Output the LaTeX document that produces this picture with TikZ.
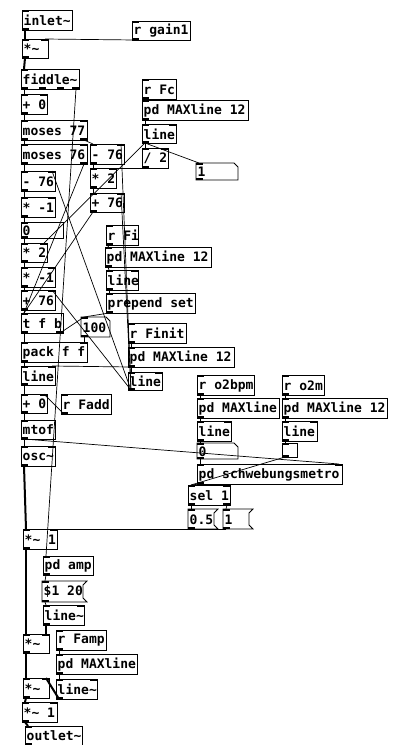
\documentclass[tikz,border=0pt]{standalone}
\usepackage{fontspec}
\newfontfamily\pdmono{DejaVu Sans Mono}
\newcommand\pdfont{\fontsize{13}{13}\selectfont\bfseries\pdmono}
\newcommand\tl{\textasciitilde}
\tikzset{
  bx0/.style={draw=none,rectangle,inner sep=0pt,outer sep=0pt,anchor=north west},
  lab/.style={font=\pdfont,inner sep=0pt,anchor=west,xshift=1.5pt,yshift=-0.5pt},
  bx/.style={line width=0.8pt,black},
  c/.style={line width=0.7pt,black},
  sig/.style={line width=2pt,black}
}
\newcommand\objline[1]{\draw[bx] (#1.north west) rectangle (#1.south east);}
\newcommand\atomline[1]{\draw[bx] (#1.south west) -- (#1.north west) -- ([xshift=-4pt]#1.north east) -- ([yshift=-4pt]#1.north east) -- (#1.south east) -- cycle;}
\newcommand\msgline[1]{\draw[bx] (#1.south west) -- (#1.north west) -- ([xshift=4pt]#1.north east) -- ([yshift=-4pt]#1.north east) -- ([yshift=4pt]#1.south east) -- ([xshift=4pt]#1.south east) -- cycle;}
% #1 kind, #2 name, #3 x, #4 y, #5 w, #6 h, #7 text, #8 flags (1=right inlet, 2=right outlet, 3=both)
\newcommand\pdbox[8]{%
  \node[bx0,minimum width=#5,minimum height=#6] (#2) at (#3,#4) {};
  \node[lab] (#2t) at (#2.west) {#7};
  \csname #1line\endcsname{#2}%
  \fill (#2.north west) rectangle ([shift={(7pt,-2pt)}]#2.north west);
  \fill (#2.south west) rectangle ([shift={(7pt,2pt)}]#2.south west);
  \ifodd#8 \fill (#2.north east) rectangle ([shift={(-7pt,-2pt)}]#2.north east);\fi
  \ifnum#8>1 \fill (#2.south east) rectangle ([shift={(-7pt,2pt)}]#2.south east);\fi
}
\newcommand\LL[3][c]{\draw[#1] ([xshift=3pt]#2.south west) -- ([xshift=3pt]#3.north west);}
\newcommand\LR[3][c]{\draw[#1] ([xshift=3pt]#2.south west) -- ([xshift=-3pt]#3.north east);}
\newcommand\RL[3][c]{\draw[#1] ([xshift=-3pt]#2.south east) -- ([xshift=3pt]#3.north west);}
\begin{document}
\begin{tikzpicture}[x=1pt,y=-1pt]
\useasboundingbox (0,0) rectangle (401,745);
% boxes
\pdbox{obj}{inl}{22}{10}{50}{20}{inlet\tl}{0}
\pdbox{obj}{rgain}{132}{21}{58}{19}{r gain1}{0}
\pdbox{obj}{mula}{22}{39}{26}{19}{*\tl}{1}
\pdbox{obj}{fid}{21}{69}{58}{20}{fiddle\tl}{2}
\fill ([xshift=18pt]fid.south west) rectangle ([shift={(25pt,2pt)}]fid.south west);
\fill ([xshift=36pt]fid.south west) rectangle ([shift={(43pt,2pt)}]fid.south west);
\pdbox{obj}{pz}{21}{94}{26}{20}{+ 0}{1}
\pdbox{obj}{mo77}{21}{120}{66}{20}{moses 77}{3}
\pdbox{obj}{mo76}{21}{144}{66}{20}{moses 76}{3}
\pdbox{obj}{m76r}{90}{144}{34}{20}{- 76}{1}
\pdbox{obj}{t2r}{90}{168}{26}{20}{* 2}{1}
\pdbox{obj}{p76r}{90}{193}{34}{19}{+ 76}{1}
\pdbox{obj}{rfc}{142}{79}{34}{20}{r Fc}{0}
\pdbox{obj}{mxa}{142}{100}{106}{20}{pd MAXline 12}{0}
\pdbox{obj}{lfc}{142}{124}{34}{19}{line}{1}
\pdbox{obj}{dtwo}{142}{148}{26}{20}{/ 2}{1}
\pdbox{atom}{none}{196}{163}{42}{17}{1}{0}
\pdbox{obj}{m76l}{21}{171}{34}{20}{- 76}{1}
\pdbox{obj}{tma}{21}{197}{34}{20}{* -1}{1}
\pdbox{obj}{nzero}{21}{222}{42}{16}{0}{0}
\pdbox{obj}{t2l}{21}{243}{26}{19}{* 2}{1}
\pdbox{obj}{tmb}{21}{267}{34}{20}{* -1}{1}
\pdbox{obj}{p76l}{21}{290}{34}{20}{+ 76}{1}
\pdbox{obj}{tfb}{21}{313}{42}{20}{t f b}{2}
\pdbox{atom}{nhun}{81}{317}{29}{20}{100}{0}
\pdbox{obj}{pack}{21}{342}{66}{20}{pack f f}{1}
\pdbox{obj}{ll}{21}{366}{34}{19}{line}{1}
\pdbox{obj}{pzb}{21}{394}{26}{19}{+ 0}{1}
\pdbox{obj}{rfadd}{61}{394}{50}{20}{r Fadd}{0}
\pdbox{obj}{mtof}{21}{420}{34}{19}{mtof}{0}
\pdbox{obj}{osc}{21}{446}{34}{20}{osc\tl}{1}
\pdbox{obj}{rfi}{106}{225}{32}{20}{r Fi}{0}
\pdbox{obj}{mxb}{105}{247}{106}{20}{pd MAXline 12}{0}
\pdbox{obj}{lfi}{106}{270}{32}{20}{line}{1}
\pdbox{obj}{prep}{106}{293}{89}{20}{prepend set}{0}
\pdbox{obj}{rfinit}{128}{323}{58}{20}{r Finit}{0}
\pdbox{obj}{mxc}{128}{347}{106}{20}{pd MAXline 12}{0}
\pdbox{obj}{lfin}{128}{372}{34}{18}{line}{1}
\pdbox{obj}{rbpm}{197}{375}{57}{20}{r o2bpm}{0}
\pdbox{obj}{mxd}{197}{398}{82}{20}{pd MAXline}{0}
\pdbox{obj}{lbpm}{197}{421}{34}{20}{line}{1}
\pdbox{atom}{nzb}{197}{443}{41}{16}{0}{0}
\pdbox{obj}{rotm}{282}{375}{42}{20}{r o2m}{0}
\pdbox{obj}{mxe}{282}{398}{105}{20}{pd MAXline 12}{0}
\pdbox{obj}{lotm}{282}{421}{35}{20}{line}{1}
\pdbox{obj}{nsm}{282}{443}{15}{14}{}{0}
\pdbox{obj}{schw}{197}{464}{145}{20}{pd schwebungsmetro}{1}
\pdbox{obj}{sel}{188}{485}{42}{20}{sel 1}{3}
\pdbox{msg}{mhalf}{188}{509}{26}{20}{0.5}{0}
\pdbox{msg}{mone}{223}{509}{26}{20}{1}{0}
\pdbox{obj}{mulb}{23}{529}{34}{20}{*\tl{} 1}{1}
\pdbox{obj}{pamp}{43}{556}{50}{19}{pd amp}{0}
\pdbox{msg}{mramp}{42}{581}{41}{21}{\$1 20}{0}
\pdbox{obj}{lina}{43}{605}{41}{20}{line\tl}{1}
\pdbox{obj}{mulc}{23}{634}{26}{19}{*\tl}{1}
\pdbox{obj}{rfamp}{56}{630}{50}{20}{r Famp}{0}
\pdbox{obj}{mxf}{56}{654}{81}{20}{pd MAXline}{0}
\pdbox{obj}{muld}{23}{678}{26}{20}{*\tl}{1}
\pdbox{obj}{linb}{56}{679}{41}{20}{line\tl}{1}
\pdbox{obj}{mule}{22}{702}{35}{20}{*\tl{} 1}{1}
\pdbox{obj}{outl}{25}{726}{57}{19}{outlet\tl}{0}
% signal connections
\LL[sig]{inl}{mula}
\LL[sig]{mula}{fid}
\LL[sig]{osc}{mulb}
\LL[sig]{mulb}{mulc}
\LR[sig]{lina}{mulc}
\LL[sig]{mulc}{muld}
\LR[sig]{linb}{muld}
\LL[sig]{muld}{mule}
\LL[sig]{mule}{outl}
% control connections
\LR{rgain}{mula}
\LL{fid}{pz}
\draw[c] ([xshift=-3pt]fid.south east) -- ([xshift=3pt]pamp.north west);
\LL{pz}{mo77}
\LL{mo77}{mo76}
\RL{mo77}{m76r}
\LL{mo76}{m76l}
\RL{mo76}{tfb}
\LL{m76l}{tma}
\LL{tma}{nzero}
\LL{nzero}{t2l}
\LL{t2l}{tmb}
\LL{tmb}{p76l}
\LL{p76l}{tfb}
\LL{tfb}{pack}
\LL{pack}{ll}
\LL{ll}{pzb}
\LL{pzb}{mtof}
\LL{mtof}{osc}
\LL{m76r}{t2r}
\LL{t2r}{p76r}
\LL{p76r}{tfb}
\LR{dtwo}{t2r}
\LL{rfc}{mxa}
\LL{mxa}{lfc}
\LL{lfc}{dtwo}
\LL{lfc}{none}
\LR{lfc}{t2l}
\LL{rfi}{mxb}
\LL{mxb}{lfi}
\LL{lfi}{prep}
\LL{prep}{nhun}
\RL{tfb}{nhun}
\LR{nhun}{pack}
\LL{rfinit}{mxc}
\LL{mxc}{lfin}
\LR{mxc}{ll}
\LR{lfin}{m76r}
\LR{lfin}{m76l}
\LR{lfin}{p76l}
\LR{lfin}{p76r}
\LR{rfadd}{pzb}
\LR{mtof}{schw}
\LL{rbpm}{mxd}
\LL{mxd}{lbpm}
\LL{lbpm}{nzb}
\LL{nzb}{schw}
\LL{rotm}{mxe}
\LL{mxe}{lotm}
\LL{lotm}{nsm}
\LL{nsm}{sel}
\LL{schw}{sel}
\LL{sel}{mhalf}
\RL{sel}{mone}
\LR{mhalf}{mulb}
\LR{mone}{mulb}
\LL{pamp}{mramp}
\LL{mramp}{lina}
\LL{rfamp}{mxf}
\LL{mxf}{linb}
\end{tikzpicture}
\end{document}
